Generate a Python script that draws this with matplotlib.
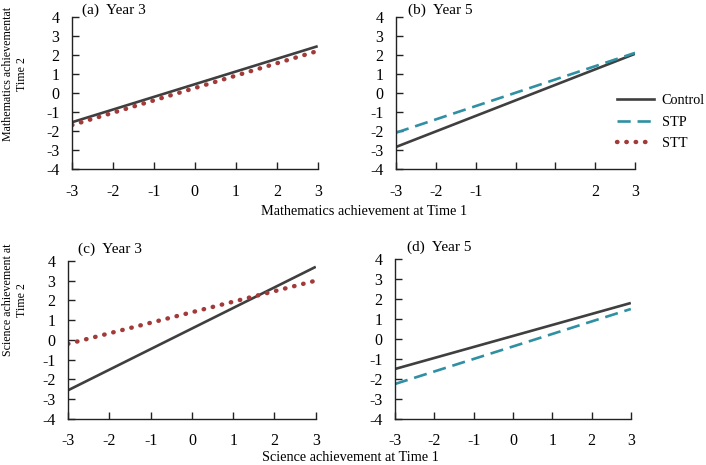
import matplotlib
matplotlib.use("Agg")
import matplotlib.pyplot as plt
from matplotlib.lines import Line2D

plt.rcParams['font.family'] = ['Liberation Serif', 'DejaVu Serif']

x_ends = [-3, 3]
# panel (a) Mathematics Year 3
a_control = [-1.55, 2.45]
a_stt = [-1.7, 2.2]
# panel (b) Mathematics Year 5
b_control = [-2.85, 2.05]
b_stp = [-2.1, 2.1]
# panel (c) Science Year 3
c_control = [-2.55, 3.7]
c_stt = [-0.2, 3.0]
# panel (d) Science Year 5
d_control = [-1.5, 1.8]
d_stp = [-2.25, 1.5]

xticks = [-3, -2, -1, 0, 1, 2, 3]
xlabels_full = ['-3', '-2', '-1', '0', '1', '2', '3']
xlabels_b = ['-3', '-2', '-1', '', '', '2', '3']
yticks = [-4, -3, -2, -1, 0, 1, 2, 3, 4]
titles = ['(a)  Year 3', '(b)  Year 5', '(c)  Year 3', '(d)  Year 5']

C_CTRL = '#3f3f3f'
C_STP = '#2f8fa3'
C_STT = '#a33a3a'
DASH = (5, 2.6)
DOT = (0, (0.1, 2.0))

fig = plt.figure(figsize=(7.06, 4.65), dpi=100)
pos = [
    [0.102, 0.637, 0.348, 0.327],
    [0.561, 0.637, 0.3385, 0.327],
    [0.0963, 0.099, 0.351, 0.340],
    [0.5595, 0.099, 0.334, 0.344],
]
axes = [fig.add_axes(p) for p in pos]

def ctrl(ax, y):
    return ax.plot(x_ends, y, color=C_CTRL, lw=1.9, solid_capstyle='butt')[0]

def stp(ax, y):
    return ax.plot(x_ends, y, color=C_STP, lw=1.9, dashes=DASH)[0]

def stt(ax, y):
    return ax.plot(x_ends, y, color=C_STT, lw=3.2, linestyle=DOT,
                   dash_capstyle='round')[0]

ctrl(axes[0], a_control); stt(axes[0], a_stt)
ctrl(axes[1], b_control); stp(axes[1], b_stp)
ctrl(axes[2], c_control); stt(axes[2], c_stt)
ctrl(axes[3], d_control); stp(axes[3], d_stp)

for i, ax in enumerate(axes):
    ax.set_xlim(-3, 3)
    ax.set_ylim(-4, 4)
    ax.set_xticks(xticks)
    ax.set_xticklabels(xlabels_b if i == 1 else xlabels_full)
    ax.set_yticks(yticks)
    ax.set_yticklabels([str(v) for v in yticks])
    for s in ['top', 'right']:
        ax.spines[s].set_visible(False)
    for s in ['left', 'bottom']:
        ax.spines[s].set_linewidth(1.0)
        ax.spines[s].set_color('#222222')
    ax.tick_params(direction='in', length=5, width=1.0, labelsize=11.5,
                   colors='#222222', labelcolor='black')
    ax.tick_params(axis='y', pad=9)
    ax.tick_params(axis='x', pad=11 if i < 2 else 10)
    ax.set_title(titles[i], fontsize=11, loc='left', x=0.04 if i in (0, 2) else 0.05,
                 pad=2 if i < 2 else 6)

fig.text(0.515, 0.545, 'Mathematics achievement at Time 1', ha='center', va='center', fontsize=10.3)
fig.text(0.497, 0.003, 'Science achievement at Time 1', ha='center', va='bottom', fontsize=10.3)
fig.text(0.021, 0.84, 'Mathematics achievementat\nTime 2', rotation=90, ha='center', va='center',
         fontsize=8.6, linespacing=1.15)
fig.text(0.021, 0.355, 'Science achievement at\nTime 2', rotation=90, ha='center', va='center',
         fontsize=8.6, linespacing=1.15)

handles = [
    Line2D([], [], color=C_CTRL, lw=1.9),
    Line2D([], [], color=C_STP, lw=1.9, dashes=DASH),
    Line2D([], [], color=C_STT, lw=3.2, linestyle=DOT, dash_capstyle='round'),
]
fig.legend(handles, ['Control', 'STP', 'STT'], loc='center left',
           bbox_to_anchor=(0.858, 0.7376), frameon=False, fontsize=10.3,
           handlelength=2.6, handletextpad=0.5, labelspacing=0.6, borderpad=0.3)

fig.savefig('out.png', dpi=100)
